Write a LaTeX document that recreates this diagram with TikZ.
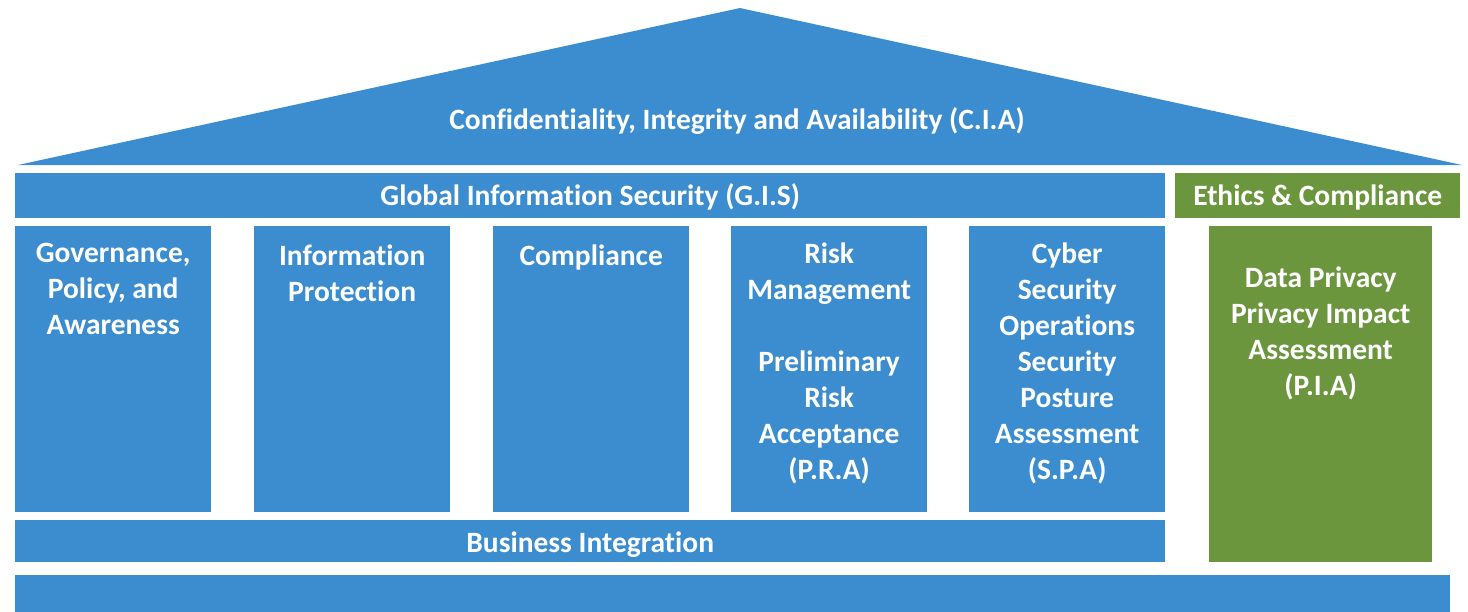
\documentclass[tikz,border=0pt]{standalone}
\usepackage{fontspec}
\setmainfont{Carlito}[Ligatures=NoCommon]
\definecolor{cblue}{RGB}{59,141,207}
\definecolor{cgreen}{RGB}{107,150,61}
\tikzset{
  block/.style={fill=cblue, draw=none, inner sep=0pt, anchor=north west},
  gblock/.style={fill=cgreen, draw=none, inner sep=0pt, anchor=north west},
  lbl/.style={text=white, font=\fontsize{29.5}{36}\selectfont\bfseries, align=center, inner sep=0pt},
  plbl/.style={lbl, anchor=north}
}
\begin{document}
\begin{tikzpicture}[x=1pt,y=-1pt]
\useasboundingbox (0,0) rectangle (1468,611);
% roof
\fill[cblue] (18,165) -- (740,8) -- (1462,165) -- cycle;
\coordinate (apex) at (740,8);
\node[lbl] (cia) at (737,121) {Confidentiality, Integrity and Availability (C.I.A)};
% bars
\node[block, minimum width=1150pt, minimum height=45pt] (gis) at (15,173) {};
\node[lbl] (gist) at ([yshift=-1.5pt]gis.center) {Global Information Security (G.I.S)};
\node[gblock, minimum width=285pt, minimum height=45pt] (eth) at (1175,173) {};
\node[lbl] (etht) at ([yshift=-1.5pt]eth.center) {Ethics \& Compliance};
% pillars
\node[block, minimum width=196pt, minimum height=286pt] (p1) at (15,226) {};
\node[block, minimum width=196pt, minimum height=286pt] (p2) at (254,226) {};
\node[block, minimum width=196pt, minimum height=286pt] (p3) at (493,226) {};
\node[block, minimum width=196pt, minimum height=286pt] (p4) at (731,226) {};
\node[block, minimum width=196pt, minimum height=286pt] (p5) at (969,226) {};
\node[gblock, minimum width=223pt, minimum height=336pt] (pg) at (1209,226) {};
\node[plbl] (t1) at ([yshift=-17pt]p1.north) {Governance,\\Policy, and\\Awareness};
\node[plbl] (t2) at ([yshift=-19pt]p2.north) {Information\\Protection};
\node[plbl] (t3) at ([yshift=-19pt]p3.north) {Compliance};
\node[plbl] (t4) at ([yshift=-17pt]p4.north) {Risk\\Management\\[36pt]Preliminary\\Risk\\Acceptance\\(P.R.A)};
\node[plbl] (t5) at ([yshift=-17pt]p5.north) {Cyber\\Security\\Operations\\Security\\Posture\\Assessment\\(S.P.A)};
\node[plbl] (tg) at ([yshift=-41pt]pg.north) {Data Privacy\\Privacy Impact\\Assessment\\(P.I.A)};
% base bars
\node[block, minimum width=1150pt, minimum height=42pt] (bi) at (15,520) {};
\node[lbl] (bit) at ([yshift=-3pt]bi.center) {Business Integration};
\node[block, minimum width=1435pt, minimum height=40pt] (base) at (15,575) {};
\end{tikzpicture}
\end{document}
